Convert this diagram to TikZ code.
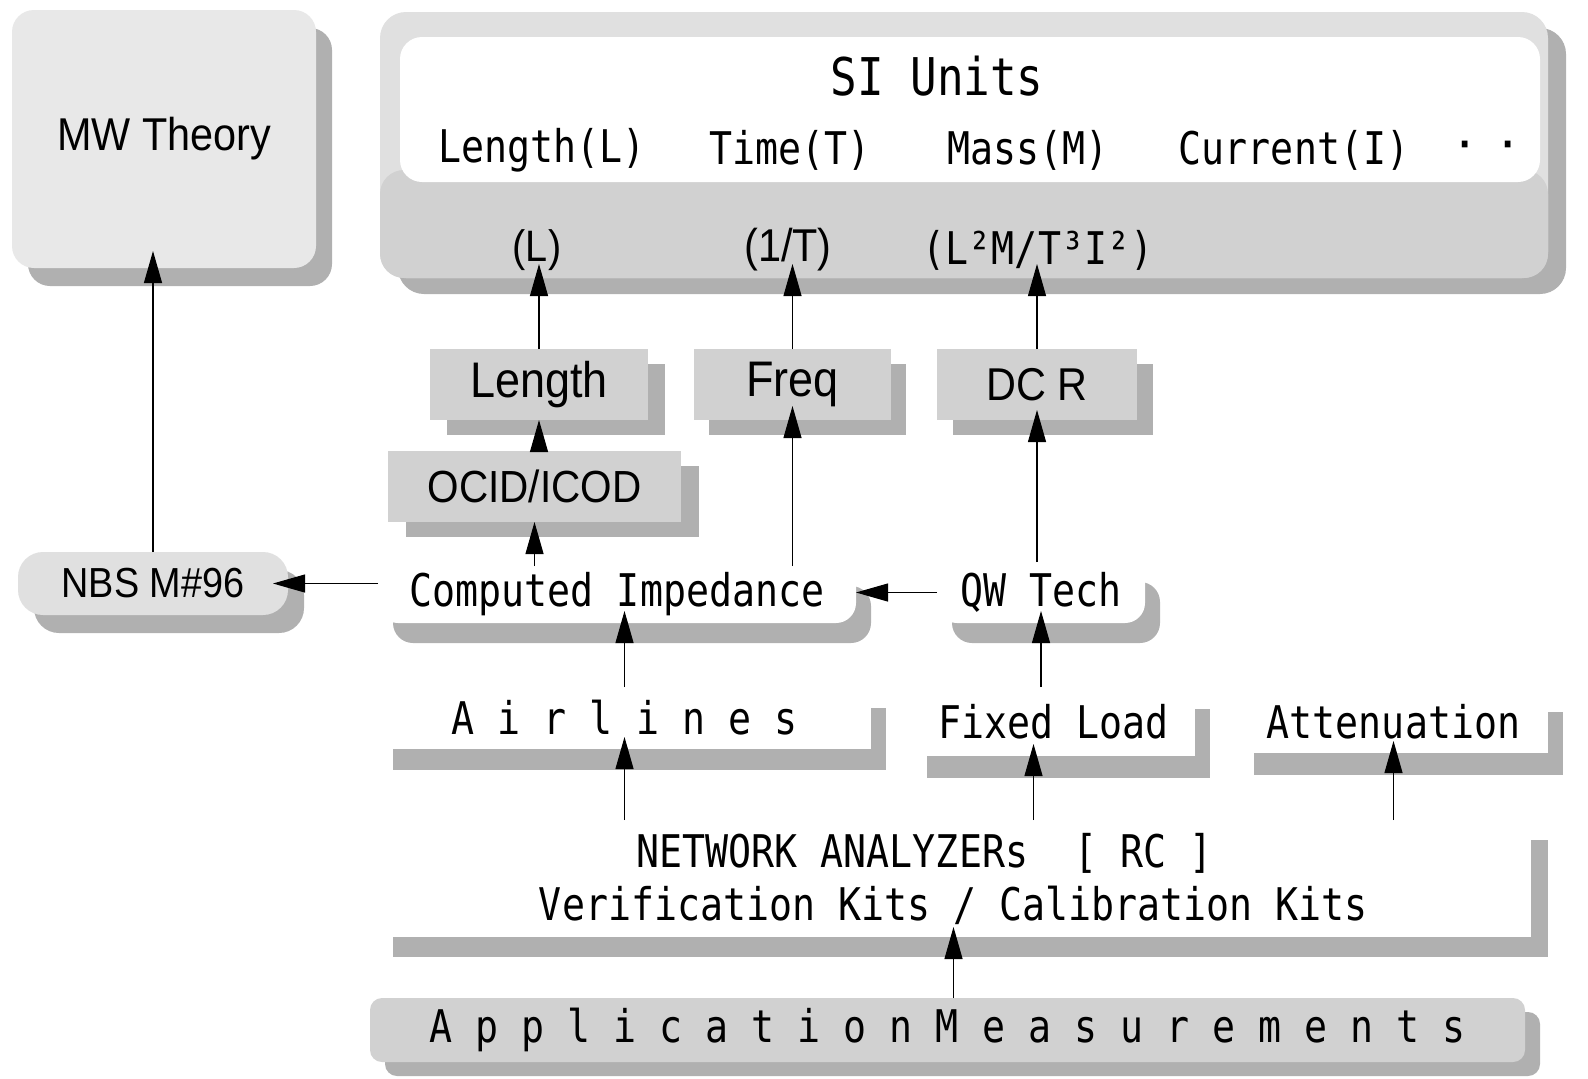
\documentclass[tikz,border=0pt]{standalone}
\usepackage{fontspec}
\usetikzlibrary{shadows,arrows.meta}
\newfontfamily\monof[FakeStretch=0.85]{DejaVu Sans Mono}
\newfontfamily\sansf[FakeStretch=0.9]{Liberation Sans}
\colorlet{lightg}{gray!24}
\colorlet{midg}{gray!36}
\colorlet{darkg}{gray!62}
\tikzset{
  x=1pt, y=-1pt,
  box/.style={inner sep=0pt, outer sep=0pt, align=center},
  litebox/.style={box, fill=lightg},
  midbox/.style={box, fill=midg},
  whitebox/.style={box, fill=white},
  shad/.style 2 args={general shadow={shadow xshift=#1pt, shadow yshift=-#2pt, fill=darkg}},
  mono/.style={font=\monof\fontsize{#1}{#1}\selectfont},
  sans/.style={font=\sansf\fontsize{#1}{#1}\selectfont},
  arr/.style={line width=1.1pt, -{Triangle[length=32pt,width=18pt]}},
  lbl/.style={inner sep=0pt}
}
\begin{document}
\begin{tikzpicture}
\useasboundingbox[fill=white] (0,0) rectangle (1588,1079);

% MW Theory
\node[box, fill=gray!18, shad={16}{18}, rounded corners=22pt, minimum width=304pt, minimum height=258pt, sans=46] (mw) at (164,139) {MW Theory};

% SI Units box
\node[litebox, shad={18}{16}, rounded corners=26pt, minimum width=1168pt, minimum height=266pt] (si) at (964,145) {};
\fill[midg, rounded corners=24pt] (380,170) rectangle (1548,278);
\fill[white, rounded corners=22pt] (400,37) rectangle (1540,182);
\node[lbl, mono=52] (sit) at (937,76) {SI Units};
\node[lbl, mono=45] (uL) at (542,150) {Length(L)};
\node[lbl, mono=45] (uT) at (790,150) {Time(T)};
\node[lbl, mono=45] (uM) at (1028,150) {Mass(M)};
\node[lbl, mono=45] (uI) at (1294,150) {Current(I)};
\node[lbl, font=\sansf\bfseries\fontsize{45}{45}\selectfont] (udots) at (1488,150) {·\hspace{30pt}·};
\node[lbl, sans=44] (dL) at (537,250) {(L)};
\node[lbl, sans=46] (dT) at (788,250) {(1/T)};
\node[lbl, mono=45] (dR) at (1038,250) {(L²M/T³I²)};

% middle boxes
\node[midbox, shad={17}{15}, minimum width=218pt, minimum height=71pt, sans=50] (len) at (539,384.5) {Length};
\node[midbox, shad={15}{15}, minimum width=197pt, minimum height=71pt, sans=50] (freq) at (792.5,384.5) {Freq};
\node[midbox, shad={16}{15}, minimum width=200pt, minimum height=71pt, sans=46] (dcr) at (1037,384.5) {DC R};
\node[midbox, shad={18}{15}, minimum width=293pt, minimum height=71pt, sans=45] (ocid) at (534.5,486.5) {OCID/ICOD};

\node[litebox, shad={16}{18}, rounded corners=25pt, minimum width=270pt, minimum height=63pt, sans=42] (nbs) at (153,583.5) {NBS M\#96};

\node[whitebox, shad={15}{20}, rounded corners=20pt, minimum width=478pt, minimum height=57pt, mono=45] (ci) at (617,594.5) {Computed Impedance};
\node[whitebox, shad={15}{20}, rounded corners=20pt, minimum width=208pt, minimum height=61pt, mono=45] (qw) at (1041,592.5) {QW Tech};

\node[whitebox, shad={15}{21}, minimum width=493pt, minimum height=62pt, mono=45] (air) at (624.5,718) {A i r l i n e s};
\node[whitebox, shad={15}{22}, minimum width=283pt, minimum height=69pt, mono=45] (fix) at (1053.5,721.5) {Fixed Load};
\node[whitebox, shad={15}{22}, minimum width=309pt, minimum height=63pt, mono=45] (att) at (1393.5,721.5) {Attenuation};

\node[whitebox, shad={17}{20}, minimum width=1155pt, minimum height=117pt, mono=45] (net) at (953.5,878.5)
  {\hspace*{-58pt}NETWORK ANALYZERs\ \ [ RC ]\\[8pt]Verification Kits / Calibration Kits};

\node[midbox, shad={15}{14}, rounded corners=12pt, minimum width=1155pt, minimum height=64pt, mono=45] (app) at (947.5,1030)
  {A p p l i c a t i o n M e a s u r e m e n t s};

% connectors
\draw[arr, shorten >=-17pt] (nbs.north) -- (nbs.north |- mw.south);
\draw[arr, shorten >=-15pt] (nbs.east -| ci.west) -- (nbs.east);
\draw[arr] (qw.west) -- (qw.west -| ci.east);
\draw[arr, shorten >=-12pt] (air.north) -- (air.north |- ci.south);
\draw[arr, shorten >=-12pt] (qw.south |- fix.north) -- (qw.south);
\draw[arr, shorten >=-12pt] (air.south |- net.north) -- (air.south);
\draw[arr, shorten >=-12pt] ([xshift=-20pt]fix.south |- net.north) -- ([xshift=-20pt]fix.south);
\draw[arr, shorten >=-12pt] (att.south |- net.north) -- (att.south);
\draw[arr, shorten >=-10pt] (net.south |- app.north) -- (net.south);
\draw[arr] (ocid.south |- ci.north) -- (ocid.south);
\draw[arr, shorten >=-14pt] (freq.south |- ci.north) -- (freq.south);
\draw[arr, shorten >=-10pt] (dcr.south |- qw.north) -- (dcr.south);
\draw[arr] (len.south |- ocid.north) -- (len.south);
\draw[arr, shorten >=-14pt] (len.north) -- (len.north |- si.south);
\draw[arr, shorten >=-14pt] (freq.north) -- (freq.north |- si.south);
\draw[arr, shorten >=-14pt] (dcr.north) -- (dcr.north |- si.south);
\end{tikzpicture}
\end{document}
